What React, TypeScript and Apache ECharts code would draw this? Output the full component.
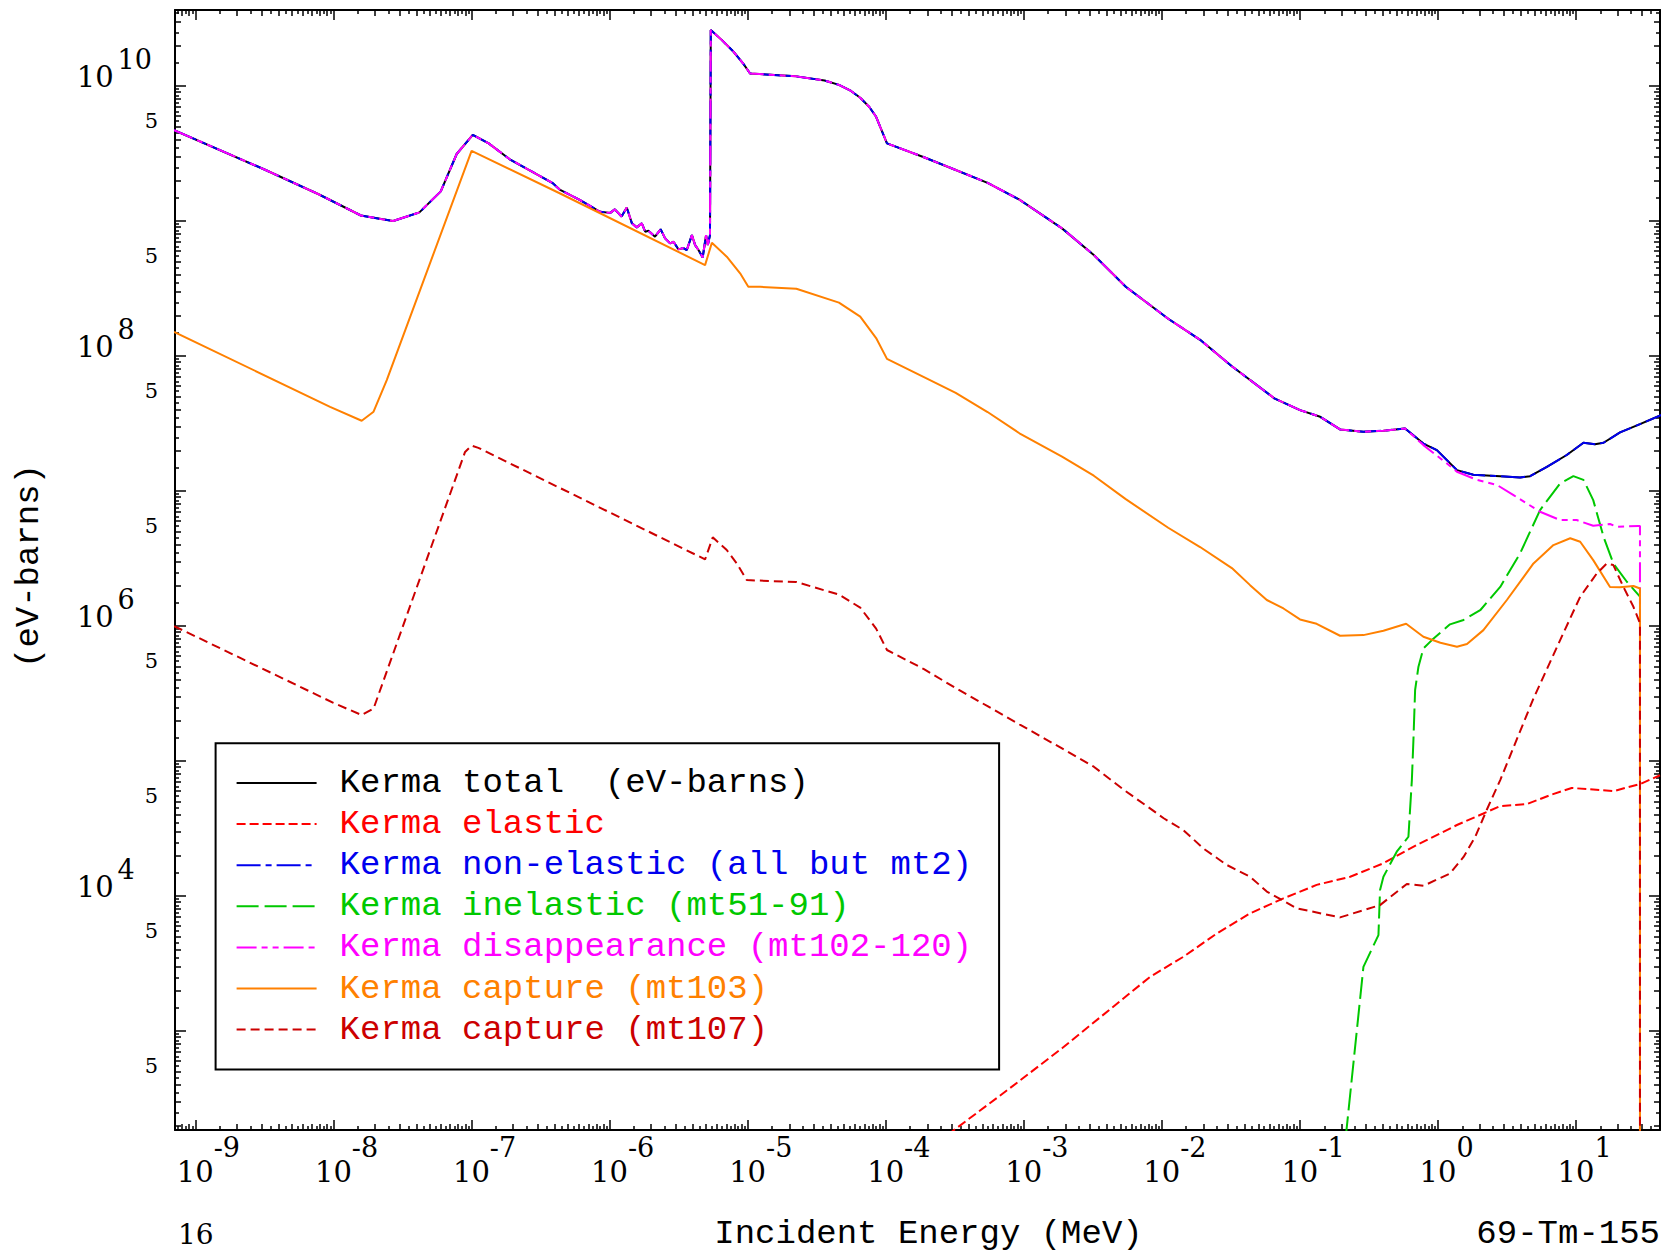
import React, { useEffect, useRef } from "react";
import * as echarts from "echarts";

// ---------- data (E in MeV, kerma in eV-barns) ----------
const kermaTotal: number[][] = [
  [7.0e-10, 4.72e9], [3.22e-9, 2.39e9], [7.8e-9, 1.58e9], [1.58e-8, 1.1e9], [2.7e-8, 1.0e9],
  [4.19e-8, 1.16e9], [5.98e-8, 1.66e9], [7.8e-8, 3.14e9], [1.02e-7, 4.35e9], [1.33e-7, 3.76e9],
  [1.89e-7, 2.87e9], [3.84e-7, 1.92e9], [4.38e-7, 1.7e9], [6.11e-7, 1.43e9], [8.53e-7, 1.17e9],
  [1.01e-6, 1.15e9], [1.09e-6, 1.22e9], [1.22e-6, 1.08e9], [1.33e-6, 1.26e9], [1.45e-6, 9.62e8],
  [1.57e-6, 8.98e8], [1.71e-6, 9.62e8], [1.81e-6, 8.34e8], [1.91e-6, 8.48e8], [2.13e-6, 7.66e8],
  [2.34e-6, 8.69e8], [2.52e-6, 7.45e8], [2.74e-6, 6.84e8], [2.9e-6, 7.03e8], [3.15e-6, 6.17e8],
  [3.42e-6, 6.31e8], [3.62e-6, 6.1e8], [3.94e-6, 7.87e8], [4.16e-6, 6.64e8], [4.4e-6, 6.1e8],
  [4.72e-6, 5.38e8], [4.99e-6, 7.87e8], [5.14e-6, 6.64e8], [5.33e-6, 7.87e8], [5.4e-6, 2.6e10],
  [6.53e-6, 2.18e10], [7.8e-6, 1.82e10], [9.31e-6, 1.46e10], [1.04e-5, 1.24e10], [2.25e-5, 1.18e10],
  [3.6e-5, 1.1e10], [4.58e-5, 1.02e10], [5.6e-5, 9.2e9], [6.53e-5, 8.19e9], [7.6e-5, 7.0e9],
  [8.51e-5, 5.92e9], [1.02e-4, 3.76e9], [1.89e-4, 2.97e9],
  [3.21e-4, 2.39e9], [5.46e-4, 1.92e9], [9.29e-4, 1.44e9], [1.89e-3, 8.83e8], [3.21e-3, 5.61e8],
  [5.47e-3, 3.26e8], [1.11e-2, 1.89e8], [1.89e-2, 1.32e8], [3.21e-2, 8.4e7], [6.52e-2, 4.86e7],
  [0.1, 3.98e7], [0.14, 3.55e7], [0.195, 2.86e7], [0.288, 2.75e7], [0.402, 2.8e7], [0.577, 2.91e7],
  [0.783, 2.25e7], [0.98, 2.01e7], [1.37, 1.43e7], [1.8, 1.32e7], [2.82, 1.29e7], [3.93, 1.26e7],
  [4.64, 1.29e7], [6.14, 1.51e7], [8.55, 1.85e7], [11.3, 2.28e7], [13.7, 2.22e7], [15.8, 2.28e7],
  [20.8, 2.72e7], [29.0, 3.13e7], [44.1, 3.77e7],
];

const kermaNonElastic: number[][] = kermaTotal;

const disappearanceHigh: number[][] = [
  [0.783, 2.19e7], [1.16, 1.6e7], [1.37, 1.39e7], [1.91, 1.21e7], [2.67, 1.11e7], [3.52, 9.33e6],
  [5.48, 7.03e6], [7.66, 6.1e6], [10.1, 6.1e6], [13.3, 5.53e6], [17.6, 5.7e6], [19.7, 5.44e6],
  [28.1, 5.51e6], [29.0, 5.5e6], [29.0, 1],
];

const kermaElastic: number[][] = [
  [1.41e-4, 100], [3.21e-4, 189], [7.8e-4, 373], [1.89e-3, 746], [8.2e-3, 2.52e3], [1.43e-2, 3.55e3],
  [2.5e-2, 5.29e3], [4.36e-2, 7.45e3], [7.59e-2, 9.62e3], [0.132, 1.21e4], [0.231, 1.39e4],
  [0.402, 1.75e4], [0.701, 2.39e4], [1.37, 3.36e4], [2.13, 4.09e4], [2.82, 4.64e4], [4.4, 4.8e4],
  [6.49, 5.6e4], [9.29, 6.32e4], [18.8, 6.0e4], [29.4, 6.79e4], [40.5, 7.85e4],
];

const kermaInelastic: number[][] = [
  [0.204, 100], [0.272, 1.7e3], [0.288, 2.99e3], [0.37, 5.14e3], [0.38, 1.11e4], [0.402, 1.39e4],
  [0.502, 2.13e4], [0.61, 2.75e4], [0.646, 7.23e4], [0.663, 1.43e5], [0.682, 3.36e5], [0.721, 5.0e5],
  [0.783, 6.84e5], [0.902, 7.87e5], [1.22, 1.03e6], [1.53, 1.11e6], [2.02, 1.31e6], [2.82, 1.95e6],
  [3.93, 3.46e6], [5.48, 7.23e6], [7.66, 1.14e7], [9.55, 1.29e7], [11.3, 1.21e7], [13.3, 8.57e6],
  [15.8, 4.58e6], [18.6, 2.91e6], [23.3, 2.13e6], [29.0, 1.65e6],
];

const kermaCapture103: number[][] = [
  [7.0e-10, 1.51e8], [9.44e-9, 4.21e7], [1.6e-8, 3.32e7], [1.95e-8, 3.87e7], [2.43e-8, 6.64e7],
  [1.0e-7, 3.31e9], [4.38e-7, 1.6e9], [4.91e-6, 4.72e8], [5.5e-6, 6.9e8], [7.05e-6, 5.45e8],
  [8.81e-6, 4.1e8], [1.01e-5, 3.26e8], [1.23e-5, 3.26e8], [2.25e-5, 3.15e8], [4.58e-5, 2.49e8],
  [6.53e-5, 1.96e8], [8.51e-5, 1.36e8], [1.02e-4, 9.53e7], [1.89e-4, 6.98e7], [3.21e-4, 5.33e7],
  [5.46e-4, 3.85e7], [9.29e-4, 2.68e7], [1.89e-3, 1.8e7], [3.21e-3, 1.3e7], [5.47e-3, 8.71e6],
  [1.11e-2, 5.35e6], [1.89e-2, 3.85e6], [3.21e-2, 2.69e6], [4.35e-2, 2.01e6], [5.75e-2, 1.56e6],
  [7.59e-2, 1.35e6], [0.1, 1.12e6], [0.132, 1.04e6], [0.195, 8.48e5], [0.288, 8.57e5], [0.402, 9.23e5],
  [0.587, 1.04e6], [0.783, 8.34e5], [1.04, 7.52e5], [1.37, 7.03e5], [1.62, 7.36e5], [2.13, 9.33e5],
  [3.15, 1.56e6], [4.91, 2.91e6], [6.85, 3.98e6], [9.06, 4.47e6], [10.7, 4.21e6], [13.3, 3.08e6],
  [17.6, 1.95e6], [20.8, 1.94e6], [26.0, 1.98e6], [29.0, 1.9e6], [29.0, 1],
];

const kermaCapture107: number[][] = [
  [7.0e-10, 1.0e6], [9.98e-9, 2.7e5], [1.6e-8, 2.19e5], [1.95e-8, 2.45e5], [8.97e-8, 1.95e7],
  [1.0e-7, 2.17e7], [1.12e-7, 2.09e7], [4.91e-6, 3.12e6], [5.58e-6, 4.54e6], [7.05e-6, 3.66e6],
  [8.33e-6, 2.91e6], [9.84e-6, 2.19e6], [2.25e-5, 2.12e6], [4.58e-5, 1.71e6], [6.53e-5, 1.37e6],
  [8.51e-5, 9.57e5], [1.02e-4, 6.65e5], [1.89e-4, 4.8e5], [3.21e-4, 3.47e5], [5.46e-4, 2.55e5],
  [9.29e-4, 1.87e5], [1.89e-3, 1.24e5], [3.21e-3, 9.08e4], [5.47e-3, 5.98e4], [8.2e-3, 4.46e4],
  [1.03e-2, 3.77e4], [1.43e-2, 3.08e4], [2.0e-2, 2.25e4], [2.95e-2, 1.7e4], [4.36e-2, 1.39e4],
  [5.75e-2, 1.08e4], [9.48e-2, 8.11e3], [0.195, 6.95e3], [0.38, 8.57e3], [0.594, 1.23e4],
  [0.783, 1.19e4], [1.22, 1.47e4], [1.53, 1.95e4], [1.86, 2.75e4], [2.25, 4.34e4], [2.82, 7.23e4],
  [4.91, 2.91e5], [7.66, 7.87e5], [10.7, 1.65e6], [14.1, 2.45e6], [16.7, 2.91e6], [18.6, 2.83e6],
  [22.0, 1.95e6], [26.0, 1.39e6], [29.0, 1.05e6], [29.0, 1],
];

// ---------- axes / ticks ----------
const xMin = 7.11e-10;
const xMax = 40.5;
const yMin = 185;
const yMax = 3.66e10;
const xLabelExponents = [-9, -8, -7, -6, -5, -4, -3, -2, -1, 0, 1];
// order chosen so neighbouring entries in the list never overlap on screen
const yLabelValues = [5e9, 5e2, 5e3, 1e4, 5e4, 5e5, 1e6, 5e6, 5e7, 1e8, 5e8, 1e10];
const decadeMantissas = [1];
const integerMantissas = [2, 3, 4, 5, 6, 7, 8, 9];
const halfMantissas = [1.5, 2.5, 3.5, 4.5, 5.5, 6.5, 7.5, 8.5, 9.5];

const seriesNames = [
  "Kerma total  (eV-barns)",
  "Kerma elastic",
  "Kerma non-elastic (all but mt2)",
  "Kerma inelastic (mt51-91)",
  "Kerma disappearance (mt102-120)",
  "Kerma capture (mt103)",
  "Kerma capture (mt107)",
];
const seriesColors = ["#000000", "#ff0000", "#0000ee", "#00c800", "#ff00ff", "#ff8000", "#cc0000"];
const seriesDashes: any[] = ["solid", [9, 4], [24, 5, 6, 5], [22, 6], [20, 5, 6, 5, 6, 5], "solid", [9, 5]];

function ticksIn(lo: number, hi: number, mantissas: number[]) {
  const out: number[] = [];
  for (let e = Math.floor(Math.log10(lo)) - 1; e <= Math.ceil(Math.log10(hi)); e++) {
    for (const m of mantissas) {
      const v = m * Math.pow(10, e);
      if (v >= lo && v <= hi) out.push(v);
    }
  }
  return out;
}

const MONO = "'Liberation Mono', monospace";
const SERIF = "'DejaVu Serif', serif";

function buildOption() {
  const xDec = xLabelExponents.map((e) => Math.pow(10, e));
  const xInt = ticksIn(xMin, xMax, integerMantissas);
  const xHalf = ticksIn(xMin, xMax, halfMantissas);
  const yDec = ticksIn(yMin, yMax, decadeMantissas);
  const yInt = ticksIn(yMin, yMax, integerMantissas);
  const yHalf = ticksIn(yMin, yMax, halfMantissas);

  const tickLine = { color: "#000", width: 1.5 };
  const mkX = (position: string, values: number[], len: number, main: boolean, withLabels: boolean): any => ({
    type: "log",
    min: xMin,
    max: xMax,
    position,
    gridIndex: 0,
    axisLine: { show: main, onZero: false, lineStyle: { color: "#000", width: 2 } },
    axisTick: { show: true, inside: true, length: len, lineStyle: tickLine, customValues: values },
    minorTick: { show: false },
    splitLine: { show: false },
    axisLabel: withLabels
      ? {
          show: true,
          customValues: xDec,
          showMinLabel: true,
          showMaxLabel: true,
          margin: 27,
          formatter: (v: number) => {
            const e = Math.round(Math.log10(v));
            return e < 0 ? `{bn|10}{s|${e}}` : `{bp|10}{s|${e}}`;
          },
          rich: {
            bn: { fontFamily: SERIF, fontSize: 29, lineHeight: 29, color: "#000", padding: [0, 0, 0, 26] },
            bp: { fontFamily: SERIF, fontSize: 29, lineHeight: 29, color: "#000", padding: [0, 0, 0, 17] },
            s: { fontFamily: SERIF, fontSize: 27, lineHeight: 27, color: "#000", padding: [0, 0, 48, 0] },
          },
        }
      : { show: false },
    ...(withLabels
      ? {
          name: "Incident Energy (MeV)",
          nameLocation: "middle",
          nameGap: 87,
          nameTextStyle: { fontFamily: MONO, fontSize: 34, color: "#000", padding: [0, 0, 0, 22] },
        }
      : {}),
  });
  const mkY = (position: string, values: number[], len: number, main: boolean, withLabels: boolean): any => ({
    type: "log",
    min: yMin,
    max: yMax,
    position,
    gridIndex: 0,
    axisLine: { show: main, onZero: false, lineStyle: { color: "#000", width: 2 } },
    axisTick: { show: true, inside: true, length: len, lineStyle: tickLine, customValues: values },
    minorTick: { show: false },
    splitLine: { show: false },
    axisLabel: withLabels
      ? {
          show: true,
          customValues: yLabelValues,
          hideOverlap: false,
          margin: 98.3,
          align: "left",
          formatter: (v: number) => {
            const l = Math.log10(v);
            const r = Math.round(l);
            if (Math.abs(l - r) < 1e-6) return `{b|10}{s|${r}}`;
            return `{f|5}`;
          },
          rich: {
            b: { fontFamily: SERIF, fontSize: 29, lineHeight: 29, color: "#000", padding: [0, 0, 18, 0] },
            s: { fontFamily: SERIF, fontSize: 27, lineHeight: 27, color: "#000", padding: [0, 0, 54, 4] },
            f: { fontFamily: SERIF, fontSize: 21, lineHeight: 21, color: "#000", padding: [0, 0, 12, 68] },
          },
        }
      : { show: false },
  });

  const allData = [
    kermaTotal,
    kermaElastic,
    kermaNonElastic,
    kermaInelastic,
    kermaTotal.filter((p) => p[0] < 0.7).concat(disappearanceHigh),
    kermaCapture103,
    kermaCapture107,
  ];

  return {
    animation: false,
    backgroundColor: "#ffffff",
    textStyle: { fontFamily: MONO },
    grid: { left: 175, right: 5, top: 10, bottom: 122, containLabel: false, outerBoundsMode: "none" },
    xAxis: [
      mkX("bottom", xDec, 10, true, true),
      mkX("bottom", xInt, 6, false, false),
      mkX("bottom", xHalf, 4, false, false),
      mkX("top", xDec, 10, true, false),
      mkX("top", xInt, 6, false, false),
      mkX("top", xHalf, 4, false, false),
    ],
    yAxis: [
      mkY("left", yDec, 11, true, true),
      mkY("left", yInt, 6, false, false),
      mkY("left", yHalf, 4, false, false),
      mkY("right", yDec, 11, true, false),
      mkY("right", yInt, 6, false, false),
      mkY("right", yHalf, 4, false, false),
    ],
    legend: {
      show: true,
      orient: "vertical",
      left: 215.6,
      top: 743.3,
      padding: [22.7, 27, 23, 20],
      itemWidth: 80,
      itemHeight: 14,
      itemGap: 7.1,
      borderColor: "#000",
      borderWidth: 2,
      backgroundColor: "#ffffff",
      selectedMode: false,
      itemStyle: { color: "transparent", borderColor: "transparent", borderWidth: 0, opacity: 0 },
      textStyle: { fontFamily: MONO, fontSize: 34, lineHeight: 33, padding: [0, 0, 0, 18] },
      data: seriesNames.map((n, i) => ({ name: n, textStyle: { color: seriesColors[i] } })),
    },
    series: seriesNames.map((name, i) => ({
      name,
      type: "line",
      xAxisIndex: 0,
      yAxisIndex: 0,
      data: allData[i],
      showSymbol: false,
      symbol: "none",
      clip: true,
      smooth: false,
      lineStyle: { color: seriesColors[i], width: 2, type: seriesDashes[i] },
      itemStyle: { color: seriesColors[i] },
      emphasis: { disabled: true },
      silent: true,
      z: 2 + i,
    })),
    graphic: [
      {
        type: "text",
        x: 28.7,
        y: 566,
        rotation: Math.PI / 2,
        style: {
          text: "(eV-barns)",
          fontFamily: MONO,
          fontSize: 34,
          fill: "#000",
          textAlign: "center",
          textVerticalAlign: "middle",
          align: "center",
          verticalAlign: "middle",
        },
      },
      {
        type: "text",
        x: 178,
        y: 1234,
        style: {
          text: "16",
          fontFamily: SERIF,
          fontSize: 28,
          fill: "#000",
          textAlign: "left",
          textVerticalAlign: "middle",
          align: "left",
          verticalAlign: "middle",
        },
      },
      {
        type: "text",
        x: 1660,
        y: 1234,
        style: {
          text: "69-Tm-155",
          fontFamily: MONO,
          fontSize: 34,
          fill: "#000",
          textAlign: "right",
          textVerticalAlign: "middle",
          align: "right",
          verticalAlign: "middle",
        },
      },
    ],
  };
}

export default function App() {
  const ref = useRef<HTMLDivElement>(null);
  useEffect(() => {
    if (!ref.current) return;
    const chart = echarts.init(ref.current, null, { renderer: "svg" });
    chart.setOption(buildOption() as any);
    return () => chart.dispose();
  }, []);
  return (
    <div
      ref={ref}
      style={{ position: "fixed", left: 0, top: 0, width: 1665, height: 1252, background: "#ffffff" }}
    />
  );
}
